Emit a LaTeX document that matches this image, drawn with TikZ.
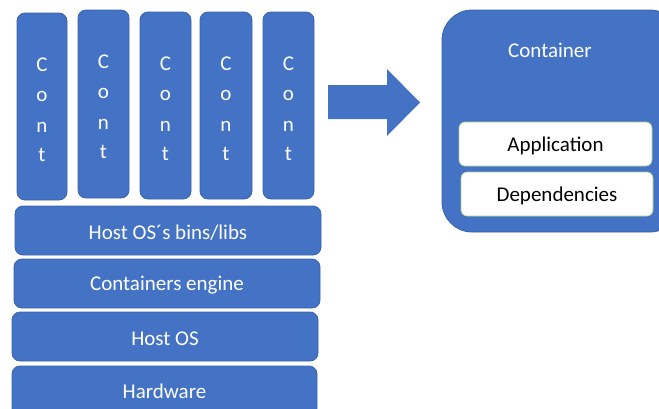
\documentclass[tikz,border=0pt]{standalone}
\usepackage{fontspec}
\setmainfont{Carlito}
\definecolor{boxblue}{HTML}{4472C4}
\definecolor{boxedge}{HTML}{3A63AD}
\definecolor{whiteedge}{HTML}{A9D18E}
\tikzset{
  bluebox/.style={fill=boxblue, draw=boxedge, line width=0.8pt, rounded corners=8pt},
  labeltext/.style={font=\fontsize{21}{23}\selectfont},
  layer/.style={bluebox, text=white, labeltext},
  contbox/.style={bluebox},
  contletter/.style={text=white, labeltext, inner sep=0pt},
  innerbox/.style={fill=white, draw=whiteedge, line width=0.6pt, rounded corners=6pt,
    text=black, labeltext},
  lowered/.style={yshift=-2pt},
}
\begin{document}
\begin{tikzpicture}[x=1pt, y=-1pt]
\useasboundingbox (0,0) rectangle (659,408);

% container columns, each spelling "Cont" downwards
\foreach \i/\xa/\xb/\ya/\yb in {1/17/67/13/200, 2/78/129/10/198, 3/140/191/12/199, 4/200/252/12/199, 5/263/314/12/199} {
  \draw[contbox] (\xa,\ya) rectangle (\xb,\yb);
  \node[contletter] (c\i-1) at ({(\xa+\xb)/2},{\ya+52}) {C};
  \node[contletter] (c\i-2) at ({(\xa+\xb)/2},{\ya+83}) {o};
  \node[contletter] (c\i-3) at ({(\xa+\xb)/2},{\ya+114}) {n};
  \node[contletter] (c\i-4) at ({(\xa+\xb)/2},{\ya+142}) {t};
}

% stacked layers
\draw[layer] (15,206) rectangle (321,255) node[midway, lowered] (bins) {Host OS´s bins/libs};
\draw[layer] (14,259) rectangle (320,308) node[midway, lowered] (engine) {Containers engine};
\draw[layer] (12,312) rectangle (318,361) node[midway, lowered] (hostos) {Host OS};
\draw[layer] (12,366) rectangle (317,416);
\node[text=white, labeltext] (hw) at (164.5,391) {Hardware};

% block arrow
\fill[boxblue] (328,85) -- (387,85) -- (387,69) -- (420,102.5) -- (387,136) -- (387,119) -- (328,119) -- cycle;

% container detail
\draw[bluebox, rounded corners=30pt] (442,10) rectangle (680,232);
\node[text=white, labeltext] (ctitle) at (550,50) {Container};
\draw[innerbox] (459,122) rectangle (652,166) node[midway, lowered] (app) {Application};
\draw[innerbox] (461,172) rectangle (653,216) node[midway, lowered] (deps) {Dependencies};
\end{tikzpicture}
\end{document}
